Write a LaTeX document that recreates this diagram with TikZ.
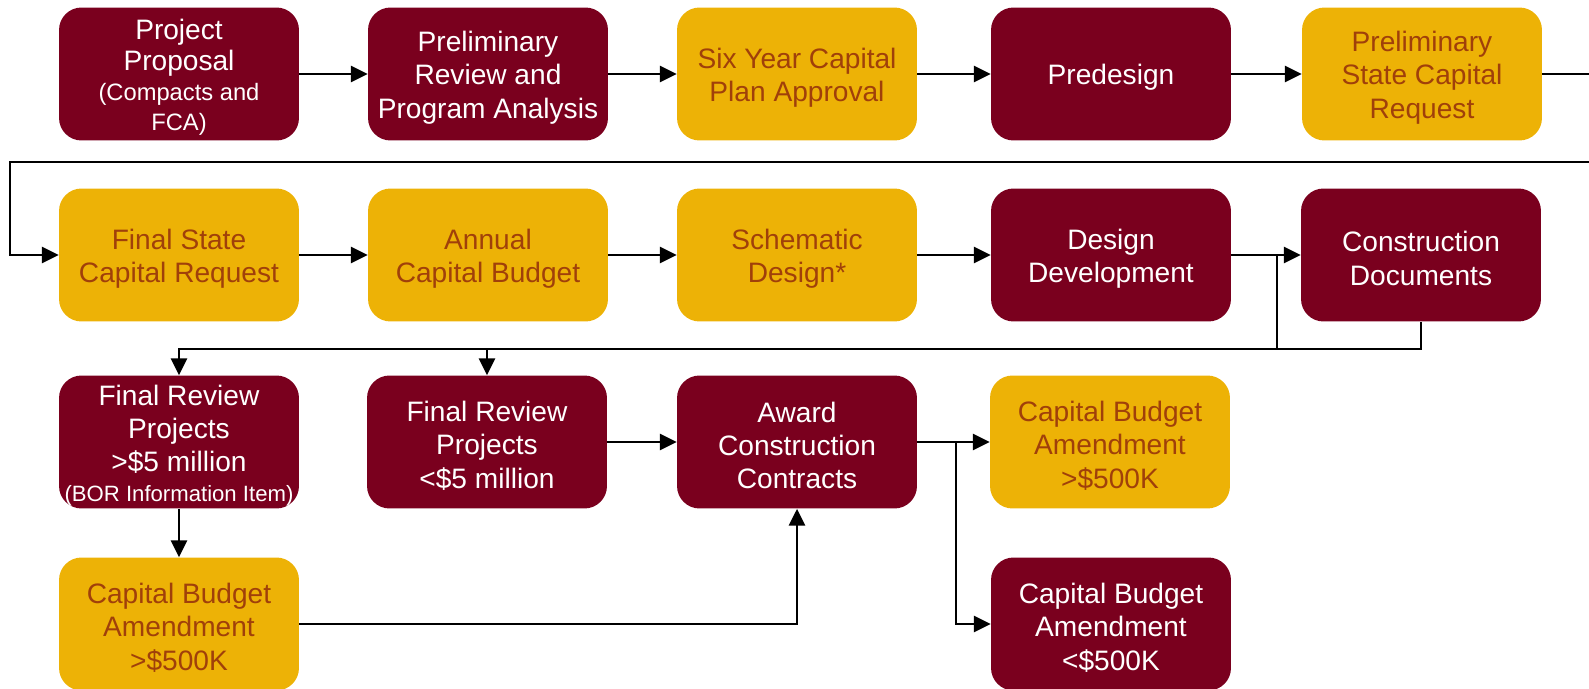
\documentclass[tikz,border=0pt]{standalone}
\usepackage{fontspec}
\setmainfont{Liberation Sans}
\usepackage{xcolor}
\usetikzlibrary{arrows.meta}

\definecolor{maroon}{HTML}{7A001E}
\definecolor{gold}{HTML}{EDB206}
\definecolor{goldtext}{HTML}{A0400A}
\newcommand{\smalltxt}{\fontsize{13.5}{15}\selectfont}
\newcommand{\tinytxt}{\fontsize{12.6}{14}\selectfont}
\newcommand{\boxtop}{\rule{0pt}{15.5pt}}

\begin{document}
\begin{tikzpicture}[x=0.02cm,y=-0.02cm,>={Triangle[length=9.5pt,width=9pt]}]

% Styles for the boxes and the connectors
\tikzset{
  stepbox/.style={rounded corners=0.45cm, minimum width=4.8cm, minimum height=2.66cm,
    align=center, inner sep=0pt, font=\fontsize{16}{19}\selectfont},
  maroonbox/.style={stepbox, fill=maroon, text=white},
  goldbox/.style={stepbox, fill=gold, text=goldtext},
  flow/.style={->, line width=1.6pt},
  link/.style={line width=1.6pt}
}

\useasboundingbox (0,0) rectangle (1589,689);
\clip (0,0) rectangle (1589,689);

% --- First row ---
\node[maroonbox] (proposal) at (179,74) {\boxtop Project\\[-1.5pt]Proposal\\[-2pt]{\smalltxt (Compacts and}\\[-2pt]{\smalltxt FCA)}};
\node[maroonbox] (prereview) at (488,74) {\boxtop Preliminary\\Review and\\Program Analysis};
\node[goldbox] (sixyear) at (797,74) {\boxtop Six Year Capital\\Plan Approval};
\node[maroonbox] (predesign) at (1111,74) {\boxtop Predesign};
\node[goldbox] (prestate) at (1422,74) {\boxtop Preliminary\\State Capital\\Request};

% --- Second row ---
\node[goldbox] (finalstate) at (179,255) {\boxtop Final State\\Capital Request};
\node[goldbox] (annual) at (488,255) {\boxtop Annual\\Capital Budget};
\node[goldbox] (schematic) at (797,255) {\boxtop Schematic\\Design*};
\node[maroonbox] (devel) at (1111,255) {\boxtop Design\\Development};
\node[maroonbox] (constdocs) at (1421,255) {\boxtop Construction\\Documents};

% --- Third row ---
\node[maroonbox] (bigreview) at (179,442) {\boxtop Final Review\\Projects\\>\$5 million\\[-2pt]{\tinytxt (BOR Information Item)}};
\node[maroonbox] (smallreview) at (487,442) {\boxtop Final Review\\Projects\\<\$5 million};
\node[maroonbox] (award) at (797,442) {\boxtop Award\\Construction\\Contracts};
\node[goldbox] (amendup) at (1110,442) {\boxtop Capital Budget\\Amendment\\>\$500K};

% --- Fourth row ---
\node[goldbox] (amendleft) at (179,624) {\boxtop Capital Budget\\Amendment\\>\$500K};
\node[maroonbox] (amendlow) at (1111,624) {\boxtop Capital Budget\\Amendment\\<\$500K};

% Turning points
\coordinate (edgeR) at (1620,162);
\coordinate (edgeL) at (10,162);
\coordinate (split) at (1277,349);
\coordinate (fork) at (956,442);

% Arrows of the first row
\draw[flow] (proposal.east) -- (prereview.west);
\draw[flow] (prereview.east) -- (sixyear.west);
\draw[flow] (sixyear.east) -- (predesign.west);
\draw[flow] (predesign.east) -- (prestate.west);
\draw[flow] (prestate.east) -| (edgeR) -- (edgeL) |- (finalstate.west);

% Arrows of the second row
\draw[flow] (finalstate.east) -- (annual.west);
\draw[flow] (annual.east) -- (schematic.west);
\draw[flow] (schematic.east) -- (devel.west);
\draw[flow] (devel.east) -- (constdocs.west);
\draw[link] (devel.east) -| (split);
\draw[link] (constdocs.south) |- (split);
\draw[flow] (split) -| (bigreview.north);
\draw[flow] (split) -| (smallreview.north);

% Arrows of the lower rows
\draw[flow] (bigreview.south) -- (amendleft.north);
\draw[flow] (smallreview.east) -- (award.west);
\draw[flow] (amendleft.east) -| (award.south);
\draw[flow] (award.east) -- (amendup.west);
\draw[flow] (fork) |- (amendlow.west);

\end{tikzpicture}
\end{document}
